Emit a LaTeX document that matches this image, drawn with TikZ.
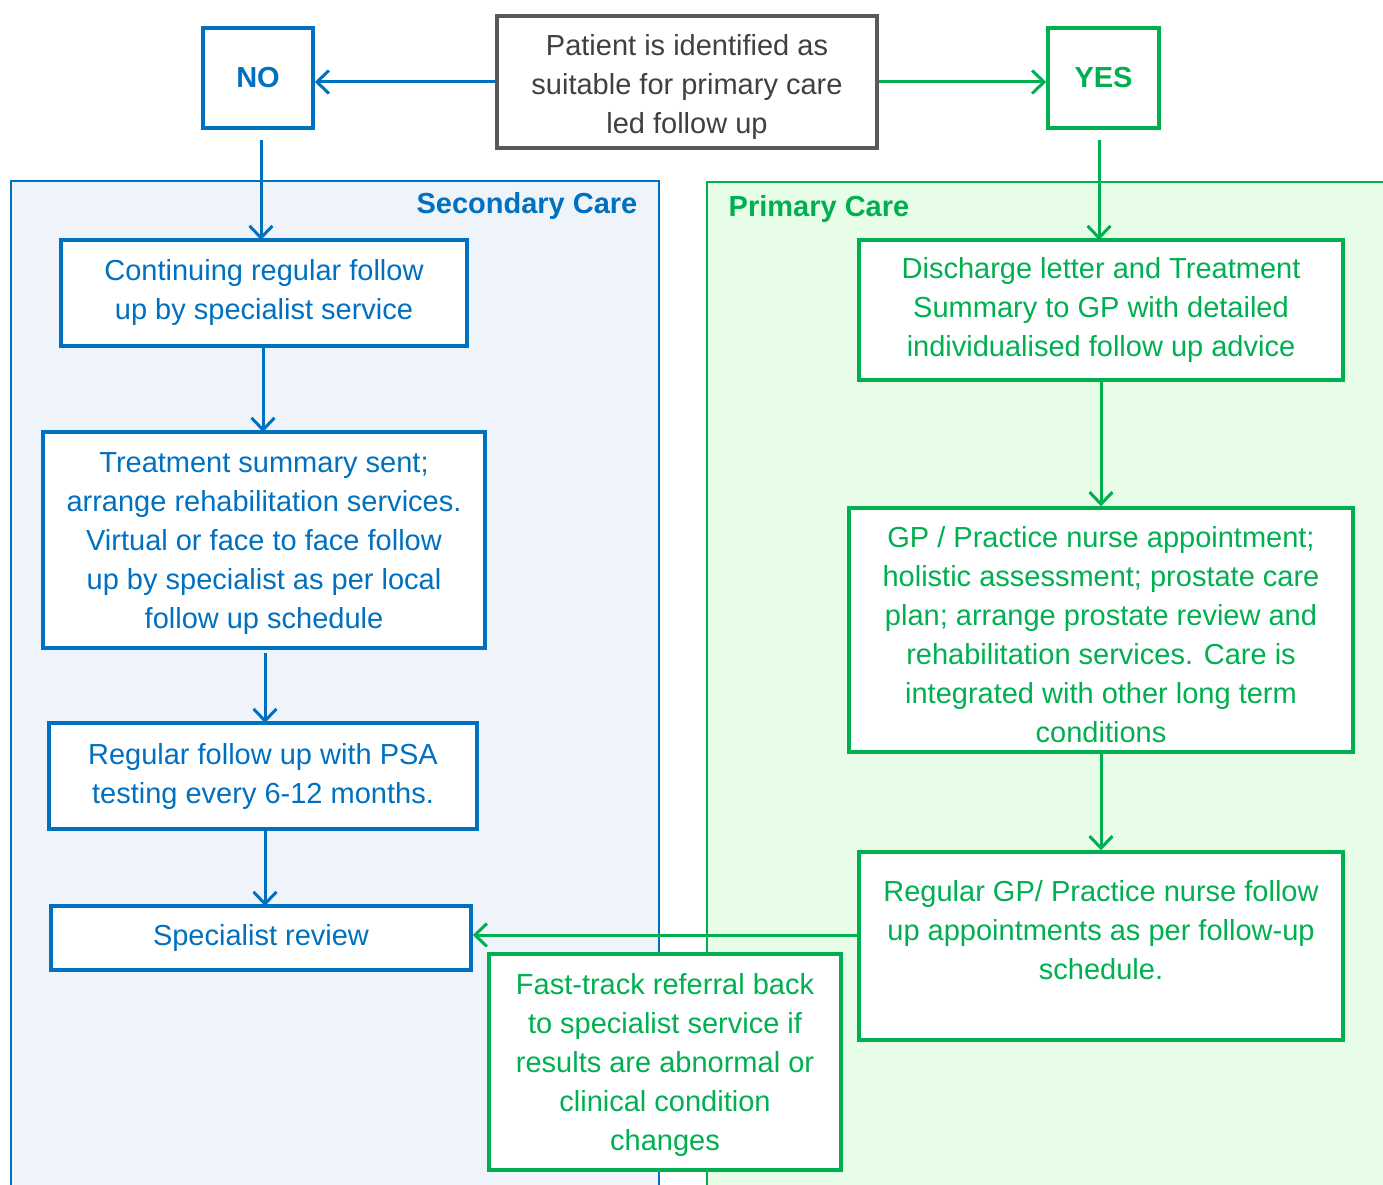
\documentclass[tikz,border=0pt]{standalone}
\usepackage{fontspec}
\setmainfont{Liberation Sans}
\usepackage{tikz}
\usetikzlibrary{arrows.meta}

\definecolor{nhsblue}{HTML}{0070C0}
\definecolor{nhsgreen}{HTML}{00B050}
\definecolor{boxgrey}{HTML}{595959}
\definecolor{textgrey}{HTML}{404040}
\definecolor{secfill}{HTML}{EEF4FA}
\definecolor{primfill}{HTML}{E8FDE8}

\newcommand{\pushdown}[1]{\rule{0pt}{#1}}

\begin{document}
\begin{tikzpicture}[x=1pt,y=-1pt,
    font=\fontsize{29}{39}\selectfont,
    box/.style={draw,line width=3.5pt,fill=white,align=center,inner sep=0pt},
    bluebox/.style={box,draw=nhsblue,text=nhsblue},
    greenbox/.style={box,draw=nhsgreen,text=nhsgreen},
    bluearrow/.style={nhsblue,line width=3pt,-{Straight Barb[length=12pt,width=23pt]}},
    greenarrow/.style={nhsgreen,line width=3pt,-{Straight Barb[length=12pt,width=23pt]}}]
  \useasboundingbox (0,0) rectangle (1383,1185);
  \clip (0,0) rectangle (1383,1185);

  \draw[nhsblue,fill=secfill,line width=2pt] (11,181) rectangle (659,1200);
  \draw[nhsgreen,fill=primfill,line width=2pt] (707,182) rectangle (1400,1200);
   \draw (527,206) node (seclabel) {\bfseries\textcolor{nhsblue}{Secondary Care}};
   \draw (819,209) node (primlabel) {\bfseries\textcolor{nhsgreen}{Primary Care}};

  \draw (687,82) node[box,draw=boxgrey,text=textgrey,minimum width=380pt,minimum height=132pt] (patient)
      {\pushdown{31pt}Patient is identified as\\suitable for primary care\\led follow up};
  \draw (258,78) node[bluebox,minimum width=110pt,minimum height=100pt] (no) {\bfseries NO};
  \draw (1103.5,78) node[greenbox,minimum width=111pt,minimum height=100pt] (yes) {\bfseries YES};

  \draw (264,293) node[bluebox,minimum width=406pt,minimum height=106pt] (continuing)
      {Continuing regular follow\\up by specialist service};
  \draw (264,540) node[bluebox,minimum width=442pt,minimum height=216pt] (summary)
      {\pushdown{27pt}Treatment summary sent;\\arrange rehabilitation services.\\Virtual or face to face follow\\up by specialist as per local\\follow up schedule};
  \draw (263,776) node[bluebox,minimum width=428pt,minimum height=106pt] (psa)
      {Regular follow up with PSA\\testing every 6-12 months.};
  \draw (261,938) node[bluebox,minimum width=420pt,minimum height=64pt] (review) {Specialist review};

  \draw (1101,310) node[greenbox,minimum width=484pt,minimum height=140pt] (discharge)
      {Discharge letter and Treatment\\Summary to GP with detailed\\individualised follow up advice};
  \draw (1101,630) node[greenbox,minimum width=504pt,minimum height=244pt] (gpnurse)
      {\pushdown{31pt}GP / Practice nurse appointment;\\holistic assessment; prostate care\\plan; arrange prostate review and\\rehabilitation services. Care is\\integrated with other long term\\conditions};
  \draw (1101,946) node[greenbox,minimum width=484pt,minimum height=188pt] (regulargp)
      {\parbox[c][132pt][t]{470pt}{\centering Regular GP/ Practice nurse follow\\up appointments as per follow-up\\schedule.}};
  \draw (665,1062) node[greenbox,minimum width=352pt,minimum height=216pt] (fasttrack)
      {\pushdown{27pt}Fast-track referral back\\to specialist service if\\results are abnormal or\\clinical condition\\changes};

    \path[bluearrow] (patient.west) edge (patient.west -| no.east);
    \path[greenarrow] (patient.east) edge (patient.east -| yes.west);
    \path[bluearrow] (261,128) edge[shorten <=12pt] (261,240);
    \path[greenarrow] (1099,128) edge[shorten <=12pt] (1099,240);
      \path[bluearrow] (263,346) edge (263,432);
      \path[bluearrow] (265,653) edge (265,723);
      \path[bluearrow] (265,829) edge (265,906);
       \path[greenarrow] (discharge) edge (gpnurse);
       \path[greenarrow] (gpnurse) edge (regulargp);
       \path[greenarrow] ([yshift=3pt]review.east -| regulargp.west) edge ([yshift=3pt]review.east);

\end{tikzpicture}
\end{document}
